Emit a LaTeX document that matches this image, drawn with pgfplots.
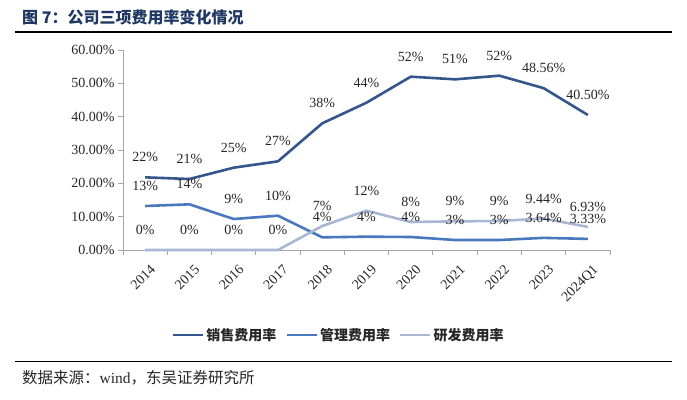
\documentclass[border=0pt]{standalone}
\usepackage{pgfplots}
\pgfplotsset{compat=1.18}
\usepackage{pgfplotstable}
\usepackage{fontspec}
\setmainfont{Liberation Serif}
\newfontfamily\cjk{Noto Sans CJK SC}
\definecolor{sales}{HTML}{34568A}
\definecolor{mgmt}{HTML}{4A78BE}
\definecolor{rd}{HTML}{A9B6D4}
\definecolor{titleblue}{HTML}{1F3763}
\definecolor{axisgray}{HTML}{A6A6A6}
\definecolor{txt}{HTML}{262626}

\pgfplotstableread{
x y lab
0 21.8 22
1 21.3 21
2 24.7 25
3 26.6 27
4 38.0 38
5 44.2 44
6 52.0 52
7 51.2 51
8 52.3 52
9 48.56 48.56
10 40.50 40.50
}\sales
\pgfplotstableread{
x y lab
0 13.2 13
1 13.7 14
2 9.3 9
3 10.3 10
4 3.8 4
5 4.0 4
6 3.9 4
7 3.0 3
8 3.0 3
9 3.64 3.64
10 3.33 3.33
}\mgmt
\pgfplotstableread{
x y lab
0 0 0
1 0 0
2 0 0
3 0 0
4 7.2 7
5 11.8 12
6 8.4 8
7 8.6 9
8 8.7 9
9 9.44 9.44
10 6.93 6.93
}\rd

\begin{document}
\begin{tikzpicture}
\useasboundingbox (0pt,0pt) rectangle (687pt,-399pt);
\draw[black, line width=1.5pt] (15pt,-32pt) -- (672pt,-32pt);
\draw[black, line width=1pt] (15pt,-361pt) -- (672pt,-361pt);
\node[anchor=west, text=titleblue, font=\cjk\bfseries\fontsize{16}{16}\selectfont, inner sep=0pt] at (22pt,-17pt) {图 7：公司三项费用率变化情况};
\node[anchor=west, text=txt, font=\cjk\fontsize{15.5}{16}\selectfont, inner sep=0pt] at (22pt,-378pt) {数据来源：{\rmfamily wind}，东吴证券研究所};
\begin{axis}[
  at={(123pt,-250pt)}, anchor=south west,
  scale only axis, width=487pt, height=200pt,
  xmin=-0.5, xmax=10.5, ymin=0, ymax=60,
  clip=false,
  axis x line*=bottom, axis y line*=left,
  axis line style={axisgray, line width=1pt, -},
  xtick={0,...,10},
  xticklabels={2014,2015,2016,2017,2018,2019,2020,2021,2022,2023,2024Q1},
  major x tick style={draw=none},
  extra x ticks={-0.5,0.5,1.5,2.5,3.5,4.5,5.5,6.5,7.5,8.5,9.5,10.5},
  extra x tick labels={},
  extra x tick style={major tick length=5pt, tick align=outside, major x tick style={draw=axisgray, line width=1pt}},
  xticklabel style={rotate=45, anchor=north east, inner sep=0pt, xshift=-3pt, yshift=-9pt, font=\fontsize{14}{14}\selectfont, text=txt},
  ytick={0,10,...,60},
  yticklabel={\pgfmathprintnumber[fixed,fixed zerofill,precision=2]{\tick}\%},
  /pgf/number format/assume math mode=true,
  yticklabel style={font=\fontsize{14}{14}\selectfont, text=txt},
  y tick style={draw=axisgray, line width=1pt},
  tick align=outside, major tick length=5pt,
  every axis plot/.append style={line width=2.6pt, line join=round},
  point meta=explicit symbolic,
  nodes near coords={\pgfplotspointmeta\%},
  every node near coord/.append style={anchor=center, yshift=20pt, font=\fontsize{14}{14}\selectfont, text=txt, inner sep=0pt},
  legend style={at={(0.443,-0.425)}, anchor=center, draw=none, fill=none,
    legend columns=3, font=\cjk\bfseries\fontsize{14}{14}\selectfont, text=txt,
    /tikz/every even column/.append style={column sep=7pt}},
  legend image code/.code={\draw[#1] (0pt,0pt) -- (30pt,0pt);},
]
\addplot[sales] table[x=x, y=y, meta=lab] {\sales};
\addlegendentry{销售费用率}
\addplot[mgmt] table[x=x, y=y, meta=lab] {\mgmt};
\addlegendentry{管理费用率}
\addplot[rd] table[x=x, y=y, meta=lab] {\rd};
\addlegendentry{研发费用率}
\end{axis}
\end{tikzpicture}
\end{document}
